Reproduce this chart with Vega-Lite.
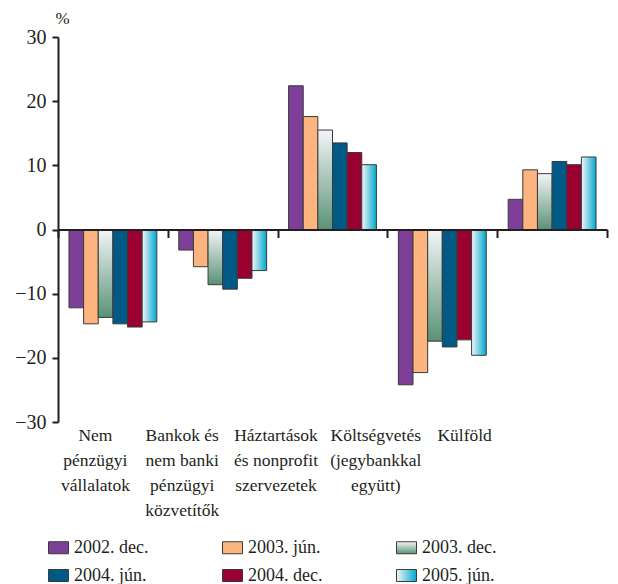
{
  "$schema": "https://vega.github.io/schema/vega-lite/v6.json",
  "width": 549,
  "height": 385,
  "autosize": {"type": "none"},
  "padding": {"left": 58, "top": 37, "right": 11, "bottom": 162},
  "config": {
    "view": {"stroke": null},
    "font": "'Times New Roman', 'Liberation Serif', serif",
    "axis": {"labelFont": "'Times New Roman', 'Liberation Serif', serif", "titleFont": "'Times New Roman', 'Liberation Serif', serif"},
    "legend": {"labelFont": "'Times New Roman', 'Liberation Serif', serif", "titleFont": "'Times New Roman', 'Liberation Serif', serif"}
  },
  "data": {"values": [
    {"cat": "Nem|pénzügyi|vállalatok", "series": "2002. dec.", "value": -12.2},
    {"cat": "Nem|pénzügyi|vállalatok", "series": "2003. jún.", "value": -14.7},
    {"cat": "Nem|pénzügyi|vállalatok", "series": "2003. dec.", "value": -13.7},
    {"cat": "Nem|pénzügyi|vállalatok", "series": "2004. jún.", "value": -14.7},
    {"cat": "Nem|pénzügyi|vállalatok", "series": "2004. dec.", "value": -15.2},
    {"cat": "Nem|pénzügyi|vállalatok", "series": "2005. jún.", "value": -14.4},
    {"cat": "Bankok és|nem banki|pénzügyi|közvetítők", "series": "2002. dec.", "value": -3.2},
    {"cat": "Bankok és|nem banki|pénzügyi|közvetítők", "series": "2003. jún.", "value": -5.8},
    {"cat": "Bankok és|nem banki|pénzügyi|közvetítők", "series": "2003. dec.", "value": -8.6},
    {"cat": "Bankok és|nem banki|pénzügyi|közvetítők", "series": "2004. jún.", "value": -9.3},
    {"cat": "Bankok és|nem banki|pénzügyi|közvetítők", "series": "2004. dec.", "value": -7.6},
    {"cat": "Bankok és|nem banki|pénzügyi|közvetítők", "series": "2005. jún.", "value": -6.4},
    {"cat": "Háztartások|és nonprofit|szervezetek", "series": "2002. dec.", "value": 22.4},
    {"cat": "Háztartások|és nonprofit|szervezetek", "series": "2003. jún.", "value": 17.6},
    {"cat": "Háztartások|és nonprofit|szervezetek", "series": "2003. dec.", "value": 15.5},
    {"cat": "Háztartások|és nonprofit|szervezetek", "series": "2004. jún.", "value": 13.5},
    {"cat": "Háztartások|és nonprofit|szervezetek", "series": "2004. dec.", "value": 12.0},
    {"cat": "Háztartások|és nonprofit|szervezetek", "series": "2005. jún.", "value": 10.1},
    {"cat": "Költségvetés|(jegybankkal|együtt)", "series": "2002. dec.", "value": -24.2},
    {"cat": "Költségvetés|(jegybankkal|együtt)", "series": "2003. jún.", "value": -22.3},
    {"cat": "Költségvetés|(jegybankkal|együtt)", "series": "2003. dec.", "value": -17.4},
    {"cat": "Költségvetés|(jegybankkal|együtt)", "series": "2004. jún.", "value": -18.3},
    {"cat": "Költségvetés|(jegybankkal|együtt)", "series": "2004. dec.", "value": -17.2},
    {"cat": "Költségvetés|(jegybankkal|együtt)", "series": "2005. jún.", "value": -19.6},
    {"cat": "Külföld", "series": "2002. dec.", "value": 4.7},
    {"cat": "Külföld", "series": "2003. jún.", "value": 9.3},
    {"cat": "Külföld", "series": "2003. dec.", "value": 8.7},
    {"cat": "Külföld", "series": "2004. jún.", "value": 10.6},
    {"cat": "Külföld", "series": "2004. dec.", "value": 10.1},
    {"cat": "Külföld", "series": "2005. jún.", "value": 11.3}
  ]},
  "mark": {"type": "bar", "stroke": "#3a3a3a", "strokeWidth": 1, "opacity": 1},
  "encoding": {
    "x": {
      "field": "cat", "type": "nominal", "sort": null,
      "scale": {"paddingInner": 0, "paddingOuter": 0},
      "axis": {
        "title": null, "orient": "bottom", "offset": -192.5, "zindex": 1,
        "domainColor": "#231F20", "domainWidth": 2,
        "tickBand": "extent", "tickSize": 8, "tickWidth": 2, "tickColor": "#231F20",
        "labelAngle": 0, "labelPadding": 189, "labelFontSize": 17.5, "labelLineHeight": 25,
        "labelExpr": "split(datum.label, '|')", "labelBaseline": "top", "labelColor": "#231F20",
        "labelLimit": 0,
        "labelOffset": {
          "condition": [
            {"test": "datum.value === 'Nem|pénzügyi|vállalatok'", "value": -18},
            {"test": "datum.value === 'Bankok és|nem banki|pénzügyi|közvetítők'", "value": -41},
            {"test": "datum.value === 'Háztartások|és nonprofit|szervezetek'", "value": -57},
            {"test": "datum.value === 'Költségvetés|(jegybankkal|együtt)'", "value": -67}
          ],
          "value": -88
        }
      }
    },
    "xOffset": {
      "field": "series", "type": "nominal", "sort": null,
      "scale": {"paddingInner": 0, "paddingOuter": 0.75}
    },
    "y": {
      "field": "value", "type": "quantitative",
      "scale": {"domain": [-30, 30], "nice": false},
      "axis": {
        "values": [-30, -20, -10, 0, 10, 20, 30],
        "title": "%", "titleAngle": 0, "titleX": 4, "titleY": -19,
        "titleAlign": "center", "titleBaseline": "middle", "titleFontSize": 17,
        "titleFontWeight": "normal", "titleColor": "#231F20",
        "grid": false, "domainWidth": 2, "domainColor": "#231F20",
        "tickSize": 6, "tickWidth": 2, "tickColor": "#231F20",
        "labelFontSize": 20, "labelPadding": 6, "labelColor": "#231F20"
      }
    },
    "fill": {
      "field": "series", "type": "nominal", "sort": null,
      "scale": {
        "domain": ["2002. dec.", "2003. jún.", "2003. dec.", "2004. jún.", "2004. dec.", "2005. jún."],
        "range": [
          "#7E3F98",
          "#FDB47E",
          {"expr": "{gradient: 'linear', x1: 0, y1: 0, x2: 0, y2: 1, stops: [{offset: 0, color: '#F4F6F8'}, {offset: 1, color: '#5A9276'}]}"},
          "#005A85",
          "#990030",
          {"expr": "{gradient: 'linear', x1: 0, y1: 0, x2: 1, y2: 0, stops: [{offset: 0, color: '#F2F6F9'}, {offset: 1, color: '#00A9CE'}]}"}
        ]
      },
      "legend": {
        "orient": "none", "legendX": -10, "legendY": 500,
        "direction": "horizontal", "columns": 3, "title": null,
        "symbolType": "M-1,-0.6H1V0.6H-1Z", "symbolSize": 400,
        "symbolStrokeColor": "#3a3a3a", "symbolStrokeWidth": 1, "symbolOpacity": 1,
        "labelFontSize": 18, "labelOffset": 5, "labelColor": "#231F20",
        "columnPadding": 71, "rowPadding": 8, "labelLimit": 0
      }
    }
  }
}
